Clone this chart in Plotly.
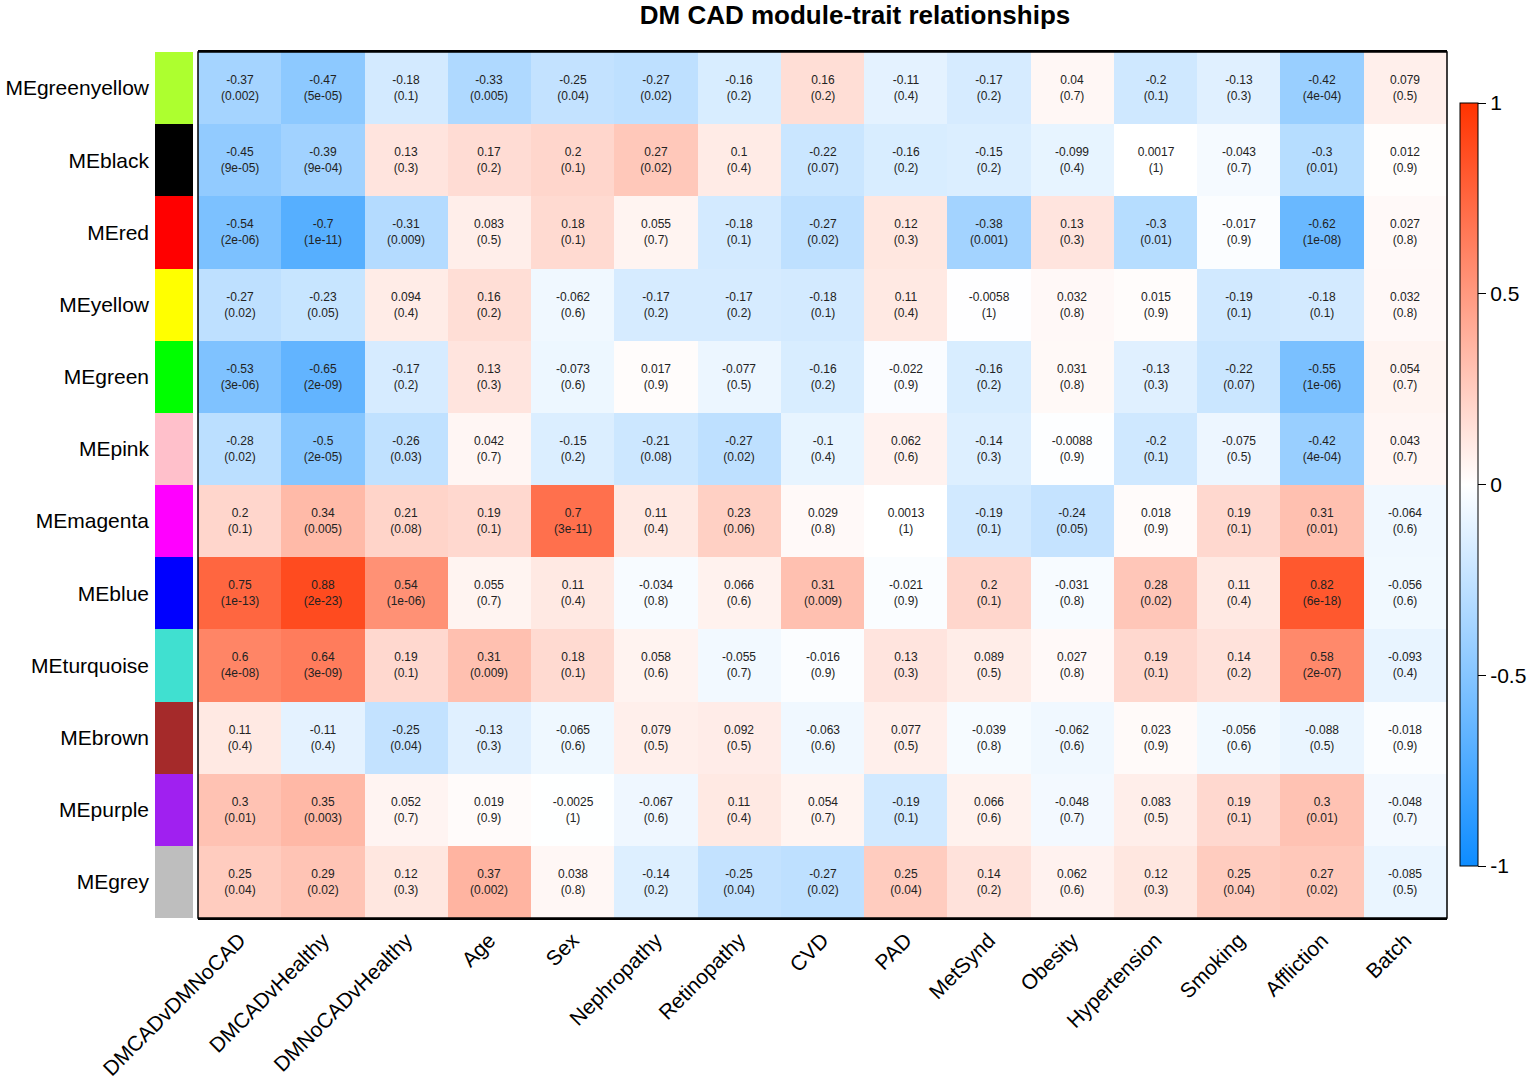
import plotly.graph_objects as go

traits = ["DMCADvDMNoCAD", "DMCADvHealthy", "DMNoCADvHealthy", "Age", "Sex", "Nephropathy",
          "Retinopathy", "CVD", "PAD", "MetSynd", "Obesity", "Hypertension", "Smoking",
          "Affliction", "Batch"]

modules = ["MEgreenyellow", "MEblack", "MEred", "MEyellow", "MEgreen", "MEpink", "MEmagenta",
           "MEblue", "MEturquoise", "MEbrown", "MEpurple", "MEgrey"]

module_colors = ["#ADFF2F", "#000000", "#FF0000", "#FFFF00", "#00FF00", "#FFC0CB", "#FF00FF",
                 "#0000FF", "#40E0D0", "#A52A2A", "#A020F0", "#BEBEBE"]

cor_greenyellow = [-0.37, -0.47, -0.18, -0.33, -0.25, -0.27, -0.16, 0.16, -0.11, -0.17, 0.04, -0.2, -0.13, -0.42, 0.079]
p_greenyellow = ["0.002", "5e-05", "0.1", "0.005", "0.04", "0.02", "0.2", "0.2", "0.4", "0.2", "0.7", "0.1", "0.3", "4e-04", "0.5"]

cor_black = [-0.45, -0.39, 0.13, 0.17, 0.2, 0.27, 0.1, -0.22, -0.16, -0.15, -0.099, 0.0017, -0.043, -0.3, 0.012]
p_black = ["9e-05", "9e-04", "0.3", "0.2", "0.1", "0.02", "0.4", "0.07", "0.2", "0.2", "0.4", "1", "0.7", "0.01", "0.9"]

cor_red = [-0.54, -0.7, -0.31, 0.083, 0.18, 0.055, -0.18, -0.27, 0.12, -0.38, 0.13, -0.3, -0.017, -0.62, 0.027]
p_red = ["2e-06", "1e-11", "0.009", "0.5", "0.1", "0.7", "0.1", "0.02", "0.3", "0.001", "0.3", "0.01", "0.9", "1e-08", "0.8"]

cor_yellow = [-0.27, -0.23, 0.094, 0.16, -0.062, -0.17, -0.17, -0.18, 0.11, -0.0058, 0.032, 0.015, -0.19, -0.18, 0.032]
p_yellow = ["0.02", "0.05", "0.4", "0.2", "0.6", "0.2", "0.2", "0.1", "0.4", "1", "0.8", "0.9", "0.1", "0.1", "0.8"]

cor_green = [-0.53, -0.65, -0.17, 0.13, -0.073, 0.017, -0.077, -0.16, -0.022, -0.16, 0.031, -0.13, -0.22, -0.55, 0.054]
p_green = ["3e-06", "2e-09", "0.2", "0.3", "0.6", "0.9", "0.5", "0.2", "0.9", "0.2", "0.8", "0.3", "0.07", "1e-06", "0.7"]

cor_pink = [-0.28, -0.5, -0.26, 0.042, -0.15, -0.21, -0.27, -0.1, 0.062, -0.14, -0.0088, -0.2, -0.075, -0.42, 0.043]
p_pink = ["0.02", "2e-05", "0.03", "0.7", "0.2", "0.08", "0.02", "0.4", "0.6", "0.3", "0.9", "0.1", "0.5", "4e-04", "0.7"]

cor_magenta = [0.2, 0.34, 0.21, 0.19, 0.7, 0.11, 0.23, 0.029, 0.0013, -0.19, -0.24, 0.018, 0.19, 0.31, -0.064]
p_magenta = ["0.1", "0.005", "0.08", "0.1", "3e-11", "0.4", "0.06", "0.8", "1", "0.1", "0.05", "0.9", "0.1", "0.01", "0.6"]

cor_blue = [0.75, 0.88, 0.54, 0.055, 0.11, -0.034, 0.066, 0.31, -0.021, 0.2, -0.031, 0.28, 0.11, 0.82, -0.056]
p_blue = ["1e-13", "2e-23", "1e-06", "0.7", "0.4", "0.8", "0.6", "0.009", "0.9", "0.1", "0.8", "0.02", "0.4", "6e-18", "0.6"]

cor_turquoise = [0.6, 0.64, 0.19, 0.31, 0.18, 0.058, -0.055, -0.016, 0.13, 0.089, 0.027, 0.19, 0.14, 0.58, -0.093]
p_turquoise = ["4e-08", "3e-09", "0.1", "0.009", "0.1", "0.6", "0.7", "0.9", "0.3", "0.5", "0.8", "0.1", "0.2", "2e-07", "0.4"]

cor_brown = [0.11, -0.11, -0.25, -0.13, -0.065, 0.079, 0.092, -0.063, 0.077, -0.039, -0.062, 0.023, -0.056, -0.088, -0.018]
p_brown = ["0.4", "0.4", "0.04", "0.3", "0.6", "0.5", "0.5", "0.6", "0.5", "0.8", "0.6", "0.9", "0.6", "0.5", "0.9"]

cor_purple = [0.3, 0.35, 0.052, 0.019, -0.0025, -0.067, 0.11, 0.054, -0.19, 0.066, -0.048, 0.083, 0.19, 0.3, -0.048]
p_purple = ["0.01", "0.003", "0.7", "0.9", "1", "0.6", "0.4", "0.7", "0.1", "0.6", "0.7", "0.5", "0.1", "0.01", "0.7"]

cor_grey = [0.25, 0.29, 0.12, 0.37, 0.038, -0.14, -0.25, -0.27, 0.25, 0.14, 0.062, 0.12, 0.25, 0.27, -0.085]
p_grey = ["0.04", "0.02", "0.3", "0.002", "0.8", "0.2", "0.04", "0.02", "0.04", "0.2", "0.6", "0.3", "0.04", "0.02", "0.5"]

cor_rows = [cor_greenyellow, cor_black, cor_red, cor_yellow, cor_green, cor_pink, cor_magenta,
            cor_blue, cor_turquoise, cor_brown, cor_purple, cor_grey]
p_rows = [p_greenyellow, p_black, p_red, p_yellow, p_green, p_pink, p_magenta,
          p_blue, p_turquoise, p_brown, p_purple, p_grey]

W, H = 1535, 1081
FONT = "Liberation Sans, Arial, sans-serif"

text = [[f"{c:g}<br>({p})" for c, p in zip(cr, pr)] for cr, pr in zip(cor_rows, p_rows)]

colorscale = [[0.0, "rgb(13,140,255)"], [0.5, "rgb(255,255,255)"], [1.0, "rgb(255,51,0)"]]

fig = go.Figure()

fig.add_trace(go.Heatmap(
    z=cor_rows, x=traits, y=modules, text=text, texttemplate="%{text}",
    textfont=dict(size=12, color="#222222", family=FONT),
    colorscale=colorscale, zmin=-1, zmax=1, xaxis="x", yaxis="y",
    colorbar=dict(
        x=1460 / W, xanchor="left", xpad=0, thickness=18,
        len=(866 - 103) / H, lenmode="fraction", y=1 - (103 + 866) / 2 / H, yanchor="middle", ypad=0,
        outlinewidth=1, outlinecolor="black",
        tickvals=[-1, -0.5, 0, 0.5, 1], ticktext=["-1", "-0.5", "0", "0.5", "1"],
        ticks="outside", ticklen=8, tickcolor="black",
        tickfont=dict(size=21, family=FONT, color="black"),
    ),
    hoverongaps=False,
))

# module colour strip
n = len(module_colors)
strip_scale = []
for i, c in enumerate(module_colors):
    strip_scale.append([i / n, c])
    strip_scale.append([(i + 1) / n, c])
fig.add_trace(go.Heatmap(
    z=[[i + 0.5] for i in range(n)], x=["color"], y=modules,
    colorscale=strip_scale, zmin=0, zmax=n, showscale=False,
    xaxis="x2", yaxis="y", hoverinfo="skip",
))

x0, x1 = 198 / W, 1447 / W
s0, s1 = 155 / W, 193 / W
y0, y1 = 1 - 918 / H, 1 - 52 / H

fig.update_layout(
    width=W, height=H, template="none",
    margin=dict(l=0, r=0, t=0, b=0, pad=0),
    paper_bgcolor="white", plot_bgcolor="white",
    title=dict(text="<b>DM CAD module-trait relationships</b>", x=855 / W, xanchor="center",
               y=1 - 15 / H, yanchor="middle",
               font=dict(size=26, family=FONT, color="black")),
    xaxis=dict(domain=[x0, x1], anchor="y", tickangle=-45, automargin=False,
               tickfont=dict(size=21, family=FONT, color="black"),
               showline=True, mirror=True, linecolor="black", linewidth=1.5,
               ticks="", showgrid=False, zeroline=False),
    xaxis2=dict(domain=[s0, s1], anchor="y", showticklabels=False, showgrid=False,
                zeroline=False, ticks="", automargin=False),
    yaxis=dict(domain=[y0, y1], anchor="x2", autorange="reversed", automargin=False,
               tickfont=dict(size=21, family=FONT, color="black"), ticklabelstandoff=5,
               showgrid=False, zeroline=False, ticks="", ticklen=0),
    shapes=[dict(type="rect", xref="x domain", yref="y domain", x0=0, x1=1, y0=0, y1=1,
                 line=dict(color="black", width=1.5))],
)

fig.write_html("out.html", config={"displayModeBar": False},
               post_script="document.body.style.margin='0';")
